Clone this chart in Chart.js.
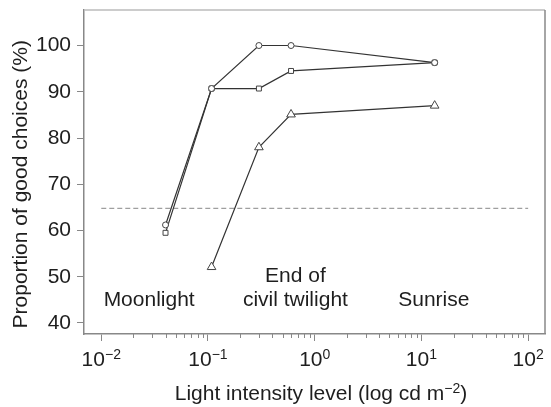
<!DOCTYPE html>
<html><head><meta charset="utf-8">
<script src="https://cdn.jsdelivr.net/npm/chart.js@4"></script>
<style>html,body{margin:0;padding:0;background:#fff}#w{width:551px;height:407px}</style>
</head><body><div id="w"><canvas id="c" width="551" height="407"></canvas></div>
<script>
// ---- data ----
const lightLevels = [0.04, 0.108, 0.3, 0.6, 13.3];
const circleSeries = [61.2, 90.7, 100, 100, 96.3];
const squareSeries = [59.5, 90.7, 90.7, 94.5, 96.3];
const triangleLevels = [0.108, 0.3, 0.6, 13.3];
const triangleSeries = [52.1, 78.0, 85.1, 87.0];
const chanceLevel = 64.8;
const chanceRange = [0.01, 100];
const xTickValues = [0.01, 0.1, 1, 10, 100];
const xTickExponents = ['\u22122', '\u22121', '0', '1', '2'];
const yTickValues = [40, 50, 60, 70, 80, 90, 100];
const periodLabels = [['Moonlight'], ['End of', 'civil twilight'], ['Sunrise']];
const periodLevels = [0.0281, 0.659, 13.06];

const FONT = '"Liberation Sans", Arial, Helvetica, sans-serif';
const TXT = '#1e1e1e';
const AX = '#888';

function pts(xs, ys) { return xs.map((x, i) => ({x: x, y: ys[i]})); }

const textPlugin = {
  id: 'textPlugin',
  afterDraw(chart) {
    const ctx = chart.ctx;
    const xs = chart.scales.x, ys = chart.scales.y;
    const ca = chart.chartArea;
    ctx.save();
    // top and right frame
    ctx.strokeStyle = '#bbb'; ctx.lineWidth = 1.5;
    ctx.beginPath(); ctx.moveTo(ca.left, ca.top); ctx.lineTo(ca.right, ca.top); ctx.stroke();
    ctx.strokeStyle = AX;
    ctx.beginPath(); ctx.moveTo(ca.right, ca.top); ctx.lineTo(ca.right, ca.bottom); ctx.stroke();
    // minor ticks
    ctx.lineWidth = 1;
    for (let d = -2; d <= 1; d++) {
      for (let m = 2; m <= 9; m++) {
        const px = Math.round(xs.getPixelForValue(m * Math.pow(10, d))) + 0.5;
        ctx.beginPath(); ctx.moveTo(px, ca.bottom); ctx.lineTo(px, ca.bottom + 4); ctx.stroke();
      }
    }
    ctx.fillStyle = TXT;
    // x tick labels with superscripts
    const drawSup = (base, sup, cx, by, bf, sf, rise) => {
      ctx.font = bf; const wb = ctx.measureText(base).width;
      ctx.font = sf; const ws = ctx.measureText(sup).width;
      const sx = cx - (wb + ws) / 2;
      ctx.textAlign = 'left'; ctx.textBaseline = 'alphabetic';
      ctx.font = bf; ctx.fillText(base, sx, by);
      ctx.font = sf; ctx.fillText(sup, sx + wb, by - rise);
    };
    xTickValues.forEach((v, i) => {
      drawSup('10', xTickExponents[i], xs.getPixelForValue(v), 366, '21px ' + FONT, '14px ' + FONT, 7);
    });
    // x title
    {
      const base = 'Light intensity level (log cd m', sup = '\u22122', tail = ')';
      ctx.font = '21px ' + FONT; const wb = ctx.measureText(base).width; const wt = ctx.measureText(tail).width;
      ctx.font = '14px ' + FONT; const ws = ctx.measureText(sup).width;
      let sx = 321 - (wb + ws + wt) / 2;
      ctx.textAlign = 'left'; ctx.textBaseline = 'alphabetic';
      ctx.font = '21px ' + FONT; ctx.fillText(base, sx, 400);
      ctx.font = '14px ' + FONT; ctx.fillText(sup, sx + wb, 393);
      ctx.font = '21px ' + FONT; ctx.fillText(tail, sx + wb + ws, 400);
    }
    // y title
    ctx.save();
    ctx.translate(21, (ys.getPixelForValue(40) + ys.getPixelForValue(100)) / 2);
    ctx.rotate(-Math.PI / 2);
    ctx.font = '21px ' + FONT; ctx.textAlign = 'center'; ctx.textBaseline = 'middle';
    ctx.fillText('Proportion of good choices (%)', 0, 0);
    ctx.restore();
    // period annotations
    ctx.font = '21px ' + FONT; ctx.textAlign = 'center'; ctx.textBaseline = 'middle';
    const lastLineY = ys.getPixelForValue(45.0);
    periodLabels.forEach((lines, i) => {
      const cx = xs.getPixelForValue(periodLevels[i]);
      lines.forEach((t, j) => {
        ctx.fillText(t, cx, lastLineY - (lines.length - 1 - j) * 24);
      });
    });
    ctx.restore();
  }
};

const lineCol = '#333';
new Chart(document.getElementById('c'), {
  type: 'line',
  data: {
    datasets: [
      { label: 'circle', data: pts(lightLevels, circleSeries), borderColor: lineCol, borderWidth: 1.2,
        pointStyle: 'circle', pointRadius: 3, pointBorderWidth: 1, pointBorderColor: '#444', pointBackgroundColor: '#fff' },
      { label: 'square', data: pts(lightLevels, squareSeries), borderColor: lineCol, borderWidth: 1.2,
        pointStyle: 'rect', pointRadius: 3.5, pointBorderWidth: 1, pointBorderColor: '#444', pointBackgroundColor: '#fff' },
      { label: 'triangle', data: pts(triangleLevels, triangleSeries), borderColor: lineCol, borderWidth: 1.2,
        pointStyle: 'triangle', pointRadius: 5, pointBorderWidth: 1, pointBorderColor: '#444', pointBackgroundColor: '#fff' },
      { label: 'chance', data: chanceRange.map(x => ({x: x, y: chanceLevel})), borderColor: '#888', borderWidth: 1,
        borderDash: [5, 3], pointRadius: 0 }
    ]
  },
  options: {
    responsive: false, animation: false, devicePixelRatio: 1,
    layout: { padding: { top: 10, right: 1, left: 0, bottom: 0 } },
    plugins: { legend: { display: false }, tooltip: { enabled: false } },
    scales: {
      x: {
        type: 'logarithmic', min: 0.00689, max: 143.8,
        afterBuildTicks(s) { s.ticks = xTickValues.map(v => ({value: v, major: true})); },
        afterFit(s) { s.height = 73; s.paddingLeft = 0; s.paddingRight = 0; s.paddingTop = 0; s.paddingBottom = 0; },
        ticks: { display: false },
        grid: { drawOnChartArea: false, drawTicks: true, tickLength: 7, color: AX, lineWidth: 1 },
        border: { color: AX, width: 1.5 }
      },
      y: {
        type: 'linear', min: 37.62, max: 107.68,
        afterBuildTicks(s) { s.ticks = yTickValues.map(v => ({value: v})); },
        afterFit(s) { s.width = 84; s.paddingTop = 0; s.paddingBottom = 0; s.paddingLeft = 0; s.paddingRight = 0; },
        ticks: { color: TXT, font: { family: FONT, size: 21 }, padding: 6 },
        grid: { drawOnChartArea: false, drawTicks: true, tickLength: 7, color: AX, lineWidth: 1 },
        border: { color: AX, width: 1.5 }
      }
    }
  },
  plugins: [textPlugin]
});
</script>
</body></html>
